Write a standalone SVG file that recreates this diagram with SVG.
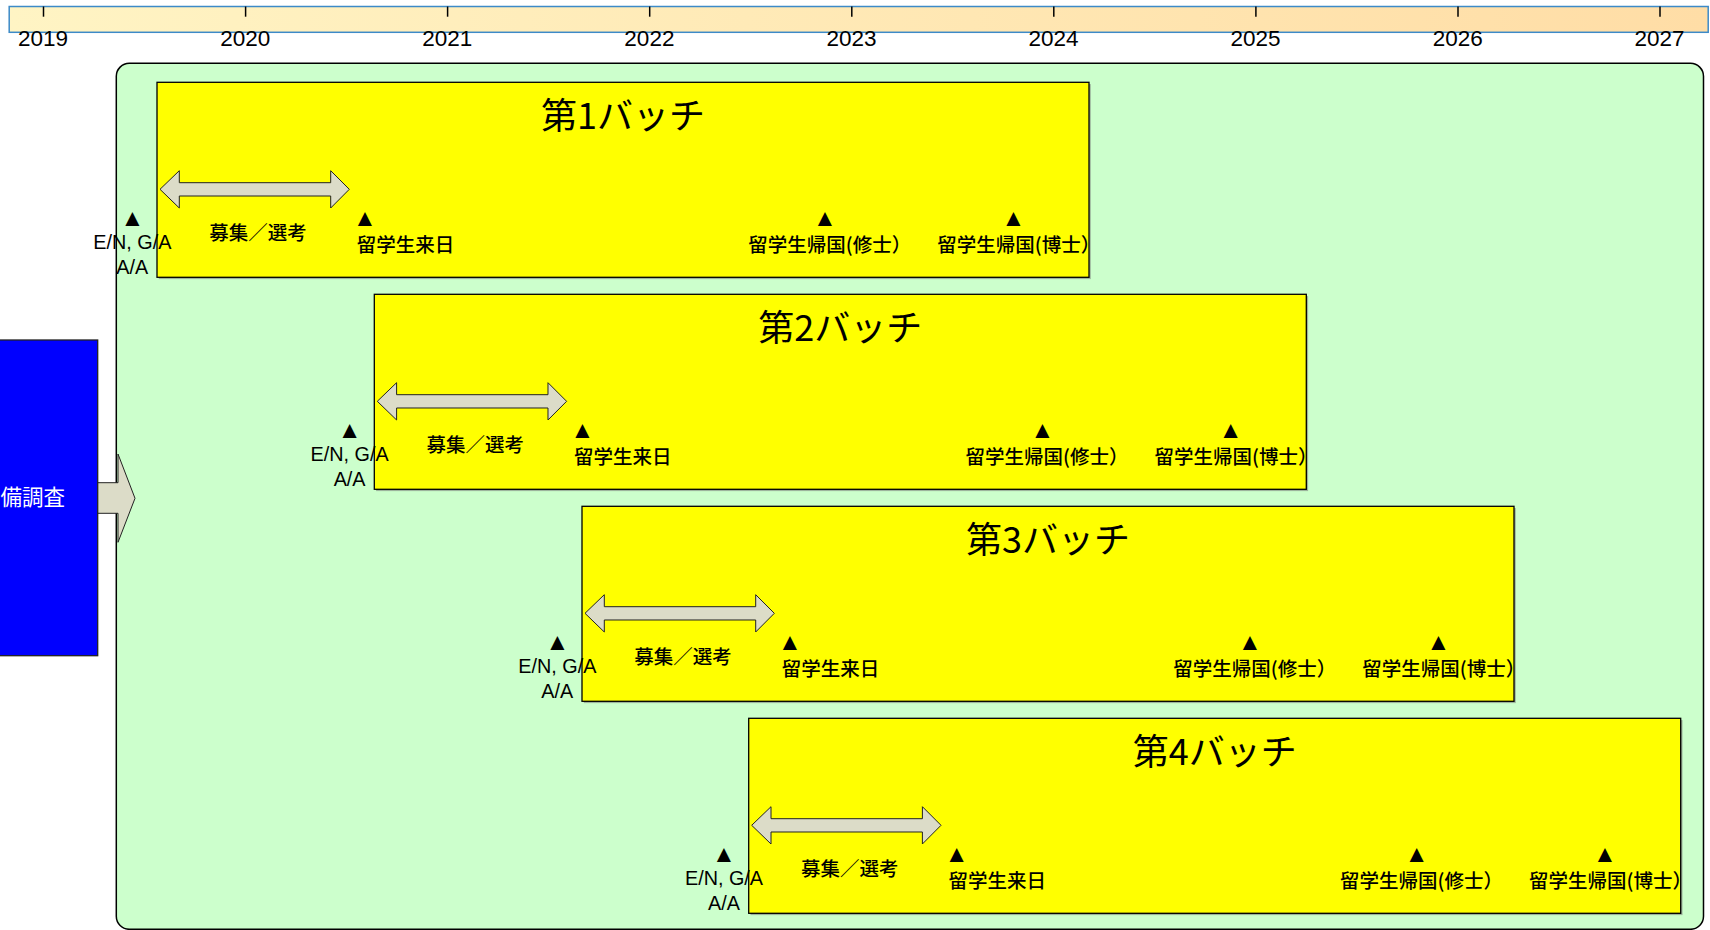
<svg xmlns="http://www.w3.org/2000/svg" width="1710" height="930" viewBox="0 0 1710 930">
<defs>
<linearGradient id="tl" x1="0" y1="0" x2="1" y2="0">
<stop offset="0" stop-color="#FFF4C4"/>
<stop offset="1" stop-color="#FFDDA6"/>
</linearGradient>
<style>
.yr{font-family:"Liberation Sans",Arial,sans-serif;font-size:22.5px;fill:#000;text-anchor:middle}
.tick{stroke:#000;stroke-width:1.5}
.batch{fill:#FFFF00;stroke:#000;stroke-width:1.3}
.shadow{fill:#777;opacity:.55}
.title{font-family:"Noto Sans CJK JP",sans-serif;font-size:36px;fill:#000;text-anchor:middle}
.lab{font-family:"Noto Sans CJK JP",sans-serif;font-size:19.5px;font-weight:500;fill:#000}
.lat{font-family:"Liberation Sans",Arial,sans-serif;font-size:19.8px;fill:#000;text-anchor:middle}
.tri{font-family:"Liberation Sans",Arial,sans-serif;font-size:24px;fill:#000;text-anchor:middle}
.dbl{fill:#DCDCC8;stroke:#222;stroke-width:1}
</style>
</defs>
<rect width="1710" height="930" fill="#FFFFFF"/>

<g id="timeline">
<rect x="9.2" y="6.5" width="1699" height="25.8" fill="url(#tl)" stroke="#3C8AC8" stroke-width="1.5"/>
<line class="tick" x1="43.5" y1="6.5" x2="43.5" y2="16.7"/>
<line class="tick" x1="245.6" y1="6.5" x2="245.6" y2="16.7"/>
<line class="tick" x1="447.6" y1="6.5" x2="447.6" y2="16.7"/>
<line class="tick" x1="649.7" y1="6.5" x2="649.7" y2="16.7"/>
<line class="tick" x1="851.8" y1="6.5" x2="851.8" y2="16.7"/>
<line class="tick" x1="1053.8" y1="6.5" x2="1053.8" y2="16.7"/>
<line class="tick" x1="1255.9" y1="6.5" x2="1255.9" y2="16.7"/>
<line class="tick" x1="1458" y1="6.5" x2="1458" y2="16.7"/>
<line class="tick" x1="1660" y1="6.5" x2="1660" y2="16.7"/>
<text class="yr" x="43" y="46">2019</text>
<text class="yr" x="245.3" y="46">2020</text>
<text class="yr" x="447.3" y="46">2021</text>
<text class="yr" x="649.4" y="46">2022</text>
<text class="yr" x="851.5" y="46">2023</text>
<text class="yr" x="1053.5" y="46">2024</text>
<text class="yr" x="1255.6" y="46">2025</text>
<text class="yr" x="1457.7" y="46">2026</text>
<text class="yr" x="1659.5" y="46">2027</text>
</g>

<g id="container">
<rect x="116.3" y="63.3" width="1587.2" height="866" rx="13" ry="13" fill="#CCFFCC" stroke="#000" stroke-width="1.5"/>
</g>

<g id="connectors">
<path d="M90,482.7 L118,482.7 L118,454 L135,498.3 L118,542.3 L118,513.3 L90,513.3 Z" fill="#DCDCC8" stroke="#222" stroke-width="1"/>
</g>

<g id="prestudy">
<rect x="-60" y="340" width="157.7" height="315.7" fill="#0000FF" stroke="#222" stroke-width="1.3"/>
<text x="0.6" y="505" font-family="Noto Sans CJK JP,sans-serif" font-size="21.5px" fill="#FFFFFF">備調査</text>
</g>

<g id="batch1" transform="translate(157,82.3)">
<rect class="shadow" x="1.8" y="1.8" width="932" height="195"/>
<rect class="batch" x="0" y="0" width="932" height="195"/>
<text class="title" x="466" y="46.7">第1バッチ</text>
<path class="dbl" d="M3,107 L22.3,88.4 L22.3,100.4 L173.7,100.4 L173.7,88.4 L192.3,107 L173.7,125.7 L173.7,113.7 L22.3,113.7 L22.3,125.7 Z"/>
<text class="tri" x="-24.7" y="143.5">▲</text>
<text class="lat" x="-24.7" y="167">E/N, G/A</text>
<text class="lat" x="-24.7" y="192">A/A</text>
<text class="lab" x="101" y="158" text-anchor="middle">募集／選考</text>
<text class="tri" x="208" y="143.5">▲</text>
<text class="lab" x="199.7" y="170">留学生来日</text>
<text class="tri" x="668" y="143.5">▲</text>
<text class="lab" x="591.3" y="170">留学生帰国(修士）</text>
<text class="tri" x="856.3" y="143.5">▲</text>
<text class="lab" x="780.3" y="170">留学生帰国(博士）</text>
</g>

<g id="batch2" transform="translate(374.3,294.3)">
<rect class="shadow" x="1.8" y="1.8" width="932" height="195"/>
<rect class="batch" x="0" y="0" width="932" height="195"/>
<text class="title" x="466" y="46.7">第2バッチ</text>
<path class="dbl" d="M3,107 L22.3,88.4 L22.3,100.4 L173.7,100.4 L173.7,88.4 L192.3,107 L173.7,125.7 L173.7,113.7 L22.3,113.7 L22.3,125.7 Z"/>
<text class="tri" x="-24.7" y="143.5">▲</text>
<text class="lat" x="-24.7" y="167">E/N, G/A</text>
<text class="lat" x="-24.7" y="192">A/A</text>
<text class="lab" x="101" y="158" text-anchor="middle">募集／選考</text>
<text class="tri" x="208" y="143.5">▲</text>
<text class="lab" x="199.7" y="170">留学生来日</text>
<text class="tri" x="668" y="143.5">▲</text>
<text class="lab" x="591.3" y="170">留学生帰国(修士）</text>
<text class="tri" x="856.3" y="143.5">▲</text>
<text class="lab" x="780.3" y="170">留学生帰国(博士）</text>
</g>

<g id="batch3" transform="translate(582,506.3)">
<rect class="shadow" x="1.8" y="1.8" width="932" height="195"/>
<rect class="batch" x="0" y="0" width="932" height="195"/>
<text class="title" x="466" y="46.7">第3バッチ</text>
<path class="dbl" d="M3,107 L22.3,88.4 L22.3,100.4 L173.7,100.4 L173.7,88.4 L192.3,107 L173.7,125.7 L173.7,113.7 L22.3,113.7 L22.3,125.7 Z"/>
<text class="tri" x="-24.7" y="143.5">▲</text>
<text class="lat" x="-24.7" y="167">E/N, G/A</text>
<text class="lat" x="-24.7" y="192">A/A</text>
<text class="lab" x="101" y="158" text-anchor="middle">募集／選考</text>
<text class="tri" x="208" y="143.5">▲</text>
<text class="lab" x="199.7" y="170">留学生来日</text>
<text class="tri" x="668" y="143.5">▲</text>
<text class="lab" x="591.3" y="170">留学生帰国(修士）</text>
<text class="tri" x="856.3" y="143.5">▲</text>
<text class="lab" x="780.3" y="170">留学生帰国(博士）</text>
</g>

<g id="batch4" transform="translate(748.7,718.3)">
<rect class="shadow" x="1.8" y="1.8" width="932" height="195"/>
<rect class="batch" x="0" y="0" width="932" height="195"/>
<text class="title" x="466" y="46.7">第4バッチ</text>
<path class="dbl" d="M3,107 L22.3,88.4 L22.3,100.4 L173.7,100.4 L173.7,88.4 L192.3,107 L173.7,125.7 L173.7,113.7 L22.3,113.7 L22.3,125.7 Z"/>
<text class="tri" x="-24.7" y="143.5">▲</text>
<text class="lat" x="-24.7" y="167">E/N, G/A</text>
<text class="lat" x="-24.7" y="192">A/A</text>
<text class="lab" x="101" y="158" text-anchor="middle">募集／選考</text>
<text class="tri" x="208" y="143.5">▲</text>
<text class="lab" x="199.7" y="170">留学生来日</text>
<text class="tri" x="668" y="143.5">▲</text>
<text class="lab" x="591.3" y="170">留学生帰国(修士）</text>
<text class="tri" x="856.3" y="143.5">▲</text>
<text class="lab" x="780.3" y="170">留学生帰国(博士）</text>
</g>
</svg>
